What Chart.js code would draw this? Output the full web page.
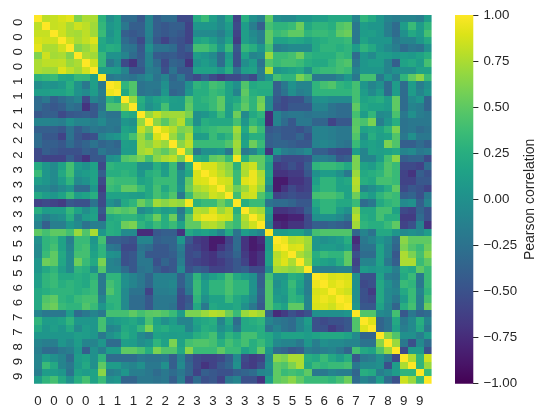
<!DOCTYPE html>
<html>
<head>
<meta charset="utf-8">
<style>
  html, body { margin: 0; padding: 0; background: #ffffff; }
  #wrap { position: relative; width: 548px; height: 418px; }
  canvas { position: absolute; left: 0; top: 0; }
</style>
<script src="https://cdn.jsdelivr.net/npm/chart.js@4/dist/chart.umd.min.js"></script>
</head>
<body>
<div id="wrap">
  <canvas id="heat" width="548" height="418"></canvas>
  <canvas id="bar" width="548" height="418"></canvas>
</div>
<script>
// Group label of each of the 50 variables (one tick every second variable).
const groupLabels = ["0","0","0","0","1","1","1","2","2","2","3","3","3","3","3","5","5","5","6","6","7","7","8","9","9"];
const colorbarTicks = [-1, -0.75, -0.5, -0.25, 0, 0.25, 0.5, 0.75, 1];
const colorbarTitle = "Pearson correlation";

// Upper triangle of the correlation matrix: each row starts on the diagonal.
const corrRows = [
[1,.8,.83,.88,.92,.62,.75,.75,.28,-.02,.12,-.3,-.3,-.45,-.1,-.4,-.3,-.3,-.55,-.55,.22,.35,.12,-.05,.2, -.6,.25,0,-.12,.5,0,-.05,-.05,.05,.05,.12,.12,.2,.2,.2,-.1,.3,.2,.05,-.1,-.15,-.1,-.1,-.15,.1],
[1,.83,.85,.75,.85,.8,.72,.32,.05,.12,-.2,-.4,-.4,-.1,-.4,-.45,-.4,-.4,-.6,.05,.05,.05,-.05,.1, -.55,.1,-.15,-.4,.4,.3,.3,.35,.55,.2,.3,.3,.25,.45,.5,-.2,.1,.05,.05,-.15,-.3,.1,.35,.1,.3],
[1,.85,.75,.73,.8,.72,.35,.02,.15,-.4,-.45,-.4,-.12,-.4,-.45,-.4,-.45,-.6,-.05,-.05,-.05,-.15,.05, -.6,.12,-.05,-.15,.5,.35,.4,.5,.5,.3,.35,.35,.3,.5,.55,-.2,.1,.12,.05,-.15,-.3,0,.2,.1,.4],
[1,.85,.75,.82,.9,.2,.08,.15,-.3,-.4,-.55,-.15,-.45,-.6,-.45,-.5,-.6,.15,.2,.1,-.05,.15, -.65,.12,0,-.15,.5,.15,.15,.2,.18,.12,.2,.25,.3,.3,.35,-.2,.15,.05,.05,.05,-.2,-.1,-.1,.05,.2],
[1,.62,.7,.8,.18,.25,.22,-.2,-.25,-.45,0,-.25,-.25,-.3,-.5,-.4,.4,.4,.3,.05,.35, -.45,.33,.25,.05,.4,-.15,-.1,-.05,-.05,-.05,.2,.3,.3,.25,.3,.1,.3,.2,.05,-.05,-.15,-.3,-.2,-.25,0],
[1,.75,.72,.33,.02,.02,-.1,-.3,-.42,-.1,-.42,-.45,-.42,-.5,-.55,.1,.05,-.05,-.3,.1, -.5,.15,-.1,-.05,.7,.35,.35,.4,.55,.3,.25,.25,.25,.35,.3,-.3,.05,-.05,.12,.1,.05,.1,.08,.15,.25],
[1,.85,.32,-.2,-.05,-.55,-.7,-.4,-.1,-.3,-.55,-.35,-.4,-.7,.02,.1,.02,-.3,.15, -.5,-.02,.1,-.25,.45,.35,.4,.4,.35,.25,.2,.2,.3,.4,.45,-.2,.05,.1,.1,-.1,-.4,.15,.2,.1,.4],
[1,.12,.12,.1,-.1,-.45,-.45,-.15,-.2,-.5,-.25,-.45,-.45,.15,.15,.15,.05,.25, -.25,.12,.15,-.15,.75,.05,.1,.15,.2,0,.3,.35,.35,.4,.35,-.1,.05,.05,.05,-.1,0,0,0,.15,.15],
[1,-.2,-.15,-.2,-.25,-.15,-.05,-.25,-.1,-.35,-.2,-.45,-.55,-.4,-.55,-.65,-.55, -.55,-.45,-.55,-.15,.05,.4,.3,.3,.6,.45,-.2,-.2,-.2,-.1,.05,-.2,.4,.4,-.2,.05,-.15,.3,.5,.65,.35],
[1,.95,.3,.45,-.25,-.2,-.2,0,-.3,-.3,0,.3,.25,.4,.35,.15, 0,.45,.2,.25,.25,-.4,-.2,.02,-.1,-.1,.3,.4,.45,.3,.25,.4,.05,-.1,0,-.3,.1,-.3,.1,-.15,0],
[1,.2,.45,-.25,-.2,-.25,.05,-.35,-.3,.05,.25,.25,.35,.3,.15, -.1,.5,.25,.22,.22,-.4,-.25,-.02,-.15,-.1,.3,.3,.3,.3,.3,.4,.1,-.05,.1,-.3,.1,-.3,.1,-.1,.05],
[1,.7,.25,.05,.15,.2,.12,.1,.45,.25,.3,.35,.5,.15, .2,.45,.3,.55,-.05,-.45,-.55,-.5,-.5,-.3,-.02,0,-.05,-.05,-.05,.4,.15,.2,.25,.12,.5,-.3,-.05,.05,-.35],
[1,.2,0,.1,.4,.1,.1,.5,.25,.25,.35,.5,.12, .3,.5,.3,.6,-.05,-.5,-.55,-.45,-.45,-.45,-.1,-.1,-.25,-.3,-.3,.5,.2,.15,.15,.1,.5,-.3,-.1,-.15,-.35],
[1,.68,.82,.7,.72,.72,.6,0,.05,.15,.35,.1, .55,-.05,.2,.3,-.75,-.1,-.25,-.2,-.2,-.25,-.2,-.2,-.25,-.3,-.3,.4,.1,.32,-.05,-.02,.42,-.2,0,-.15,-.2],
[1,.65,.48,.65,.78,.4,0,.25,.2,.2,.2, .4,.05,.32,.2,-.75,-.1,-.3,-.45,-.2,-.2,-.35,-.35,-.6,-.45,-.45,.48,.42,.6,-.15,.05,.25,-.25,-.2,-.2,-.2],
[1,.88,.78,.6,.65,.25,.3,.35,.4,.4, .72,.2,.55,.35,-.45,-.4,-.45,-.45,-.5,-.4,-.12,-.12,-.15,-.2,-.2,.5,.15,.2,.15,.3,.6,-.25,-.2,-.3,-.25],
[1,.7,.5,.75,.1,.12,.35,.2,.3, .65,.1,.25,.25,-.4,-.35,-.45,-.45,-.35,-.5,-.12,-.12,-.15,-.2,-.2,.45,0,.25,.12,.15,.45,-.2,0,-.2,-.2],
[1,.65,.8,.35,.35,.35,.35,.45, .72,.15,.55,.35,-.4,-.35,-.35,-.4,-.45,-.45,-.12,-.08,-.12,-.2,-.25,.35,.1,.15,.1,.6,.45,-.4,-.4,-.3,-.4],
[1,.6,-.2,0,0,.05,-.2, .68,-.2,-.1,.15,-.7,.05,-.15,-.2,-.15,-.05,-.4,-.4,-.5,-.55,-.55,.1,-.1,.15,.12,.15,.2,-.1,-.05,-.2,-.15],
[1,.25,.2,.5,.55,.35, .97,.25,.5,.5,.2,-.45,-.55,-.55,-.55,-.5,-.15,-.15,-.2,-.45,-.4,.6,-.1,-.1,.1,.4,.65,-.4,-.35,-.35,-.55],
[1,.88,.88,.75,.65, .28,.78,.85,.5,.1,-.65,-.6,-.5,-.6,-.4,.3,.35,.35,.3,.2,.6,.15,.1,.25,.45,.35,-.55,-.55,-.6,-.3],
[1,.9,.8,.68, .35,.75,.95,.75,.15,-.7,-.7,-.65,-.65,-.45,0,.1,.1,0,-.2,.7,.2,.25,.3,.45,.35,-.6,-.7,-.4,-.5],
[1,.88,.85, .35,.9,.95,.78,.08,-.85,-.85,-.7,-.7,-.6,.12,.3,.3,.15,.2,.78,.25,.2,.4,.4,.35,-.6,-.6,-.45,-.45],
[1,.8, .55,.7,.88,.7,-.1,-.85,-.7,-.55,-.65,-.6,.2,.3,.3,.15,.15,.75,-.1,-.02,.1,.25,.5,-.55,-.45,-.5,-.6],
[1, .38,.82,.85,.45,.2,-.6,-.55,-.5,-.55,-.55,.4,.42,.42,.35,.15,.55,.2,.1,.3,.4,.35,-.4,-.35,-.5,-.2],
[1,.25,.35,.35,-.25,-.3,-.3,-.35,-.45,-.45,.2,.3,.3,.2,.2,.35,-.3,-.2,.2,.3,.35,-.05,0,-.4,-.1],
[1,.78,.72,.1,-.7,-.7,-.65,-.6,-.4,.1,.3,.3,.1,0,.7,.2,.2,.4,.4,.15,-.55,-.6,-.35,-.5],
[1,.85,0,-.85,-.85,-.8,-.8,-.55,0,.02,.02,-.05,-.2,.78,.25,.2,.4,.25,.25,-.65,-.65,-.3,-.5],
[1,-.1,-.75,-.8,-.7,-.7,-.55,-.4,-.4,-.35,-.4,-.45,.72,.3,.25,.25,.35,.5,-.6,-.5,-.1,-.7],
[1,.1,.1,.15,.15,-.02,.4,.45,.45,.45,.45,-.35,-.1,-.25,.2,.2,.05,-.05,0,-.05,.1],
[1,.95,.78,.8,.72,.05,0,.05,.1,.25,-.75,-.2,-.1,.05,-.05,-.3,.65,.5,.5,.5],
[1,.88,.9,.7,.05,.1,.1,.05,.15,-.65,-.25,-.25,.15,-.1,-.35,.6,.45,.35,.55],
[1,.75,.65,.25,.35,.3,.3,.5,-.5,-.3,-.3,.15,-.1,-.45,.75,.6,.4,.65],
[1,.7,.2,.15,.1,.25,.5,-.6,-.1,-.1,.15,-.2,-.4,.75,.75,.35,.5],
[1,-.1,-.15,-.15,-.1,-.1,-.5,.1,.05,.1,.05,-.15,.25,.2,.5,.35],
[1,.95,.88,.9,.88,0,-.5,-.5,.15,-.15,-.2,.2,.35,-.2,.35],
[1,.9,.95,.9,0,-.55,-.5,.2,0,-.15,.35,.3,-.2,.35],
[1,.9,.85,0,-.5,-.65,.2,-.05,-.1,.2,.35,-.1,.3],
[1,.95,0,-.5,-.55,.2,-.05,-.2,.1,.35,-.15,.4],
[1,.05,-.45,-.45,.15,-.1,-.35,.25,.4,-.15,.55],
[1,.45,.45,-.05,-.1,.4,-.45,-.2,-.35,-.3],
[1,.9,-.35,-.25,.2,-.2,-.05,.25,-.1],
[1,-.35,-.25,.15,-.15,-.05,.2,-.2],
[1,.65,.45,0,0,-.15,.1],
[1,.7,-.2,-.5,-.05,-.3],
[1,-.55,.1,.1,-.5],
[1,.75,.3,.85],
[1,.3,.7],
[1,.35],
[1]
];

const viridisStops = ["#440154","#481467","#482576","#453781","#404688","#39558c","#33638d","#2d718e","#287d8e","#238a8d","#1f968b","#20a386","#29af7f","#3cbc75","#56c667","#74d055","#94d840","#b8de29","#dce318","#fde725"];

const rgbStops = viridisStops.map(h => [1, 3, 5].map(i => parseInt(h.slice(i, i + 2), 16)));
function viridis(v) {
  const t = Math.min(1, Math.max(0, (v + 1) / 2)) * (rgbStops.length - 1);
  const i = Math.min(rgbStops.length - 2, Math.floor(t));
  const f = t - i;
  const c = rgbStops[i].map((a, k) => Math.round(a + (rgbStops[i + 1][k] - a) * f));
  return `rgb(${c[0]},${c[1]},${c[2]})`;
}

const n = corrRows.length;
const value = (r, c) => r <= c ? corrRows[r][c - r] : corrRows[c][r - c];
const indices = corrRows.map((_, i) => i);
const TEXT = "#262626";
const FONT = { family: "'Liberation Sans', Arial, sans-serif", size: 13.3 };

// One dataset per matrix row; each bar spans one row band of the reversed y scale.
const rowDatasets = indices.map(r => ({
  label: "row " + r,
  data: indices.map(() => [r, r + 1]),
  backgroundColor: indices.map(c => viridis(value(r, c))),
  borderWidth: 0,
  inflateAmount: 0,
  grouped: false,
  categoryPercentage: 1,
  barPercentage: 1
}));

// Round the scale-computed cell edges to whole pixels so cells meet without seams.
const snapCells = {
  id: "snapCells",
  afterDatasetsUpdate(chart) {
    chart.getSortedVisibleDatasetMetas().forEach(meta => {
      meta.data.forEach(el => {
        const left = Math.round(el.x - el.width / 2);
        const right = Math.round(el.x + el.width / 2);
        const top = Math.round(Math.min(el.y, el.base));
        const bottom = Math.round(Math.max(el.y, el.base));
        el.x = (left + right) / 2;
        el.width = right - left;
        el.y = top;
        el.base = bottom;
        el.height = bottom - top;
      });
    });
  }
};

new Chart(document.getElementById("heat"), {
  type: "bar",
  data: { labels: indices, datasets: rowDatasets },
  options: {
    responsive: false,
    animation: false,
    events: [],
    layout: { padding: { left: 0, top: 15, right: 116.4, bottom: 0 } },
    plugins: { legend: { display: false }, tooltip: { enabled: false } },
    scales: {
      x: {
        type: "category",
        grid: { display: false, drawTicks: false },
        border: { display: false },
        afterFit: s => { s.height = 34.3; s.paddingLeft = 0; s.paddingRight = 0; },
        afterBuildTicks: s => { s.ticks = indices.filter(i => i % 2 === 0).map(i => ({ value: i })); },
        ticks: {
          autoSkip: false, maxRotation: 0, minRotation: 0, padding: 10,
          color: TEXT, font: FONT,
          callback: v => groupLabels[v / 2]
        }
      },
      y: {
        type: "linear", min: 0, max: n, reverse: true,
        grid: { display: false, drawTicks: false },
        border: { display: false },
        afterFit: s => { s.width = 34; s.paddingTop = 0; s.paddingBottom = 0; },
        afterBuildTicks: s => { s.ticks = indices.filter(i => i % 2 === 0).map(i => ({ value: i + 0.5 })); },
        ticks: {
          autoSkip: false, minRotation: 90, maxRotation: 90, padding: 16,
          color: TEXT, font: FONT,
          callback: v => groupLabels[(v - 0.5) / 2]
        }
      }
    }
  },
  plugins: [snapCells]
});

// Rotated caption beside the colour scale, reading bottom to top.
const titlePlugin = {
  id: "colorbarTitle",
  afterDraw(chart) {
    const { ctx, chartArea } = chart;
    ctx.save();
    ctx.translate(530, (chartArea.top + chartArea.bottom) / 2);
    ctx.rotate(-Math.PI / 2);
    ctx.textAlign = "center";
    ctx.textBaseline = "middle";
    ctx.fillStyle = TEXT;
    ctx.font = `14px ${FONT.family}`;
    ctx.fillText(colorbarTitle, 0, 0);
    ctx.restore();
  }
};

// Vertical gradient bar spanning the full correlation range.
new Chart(document.getElementById("bar"), {
  type: "bar",
  data: {
    labels: [colorbarTitle],
    datasets: [{
      data: [[colorbarTicks[0], colorbarTicks[colorbarTicks.length - 1]]],
      borderWidth: 0,
      categoryPercentage: 1,
      barPercentage: 1,
      backgroundColor(c) {
        const area = c.chart.chartArea;
        if (!area) return viridis(0);
        const g = c.chart.ctx.createLinearGradient(0, area.bottom, 0, area.top);
        viridisStops.forEach((h, i) => g.addColorStop(i / (viridisStops.length - 1), h));
        return g;
      }
    }]
  },
  options: {
    responsive: false,
    animation: false,
    events: [],
    layout: { padding: { left: 455, top: 15, right: 0, bottom: 34.3 } },
    plugins: { legend: { display: false }, tooltip: { enabled: false } },
    scales: {
      x: { display: false },
      y: {
        type: "linear", position: "right", min: -1, max: 1,
        border: { display: false },
        grid: { drawOnChartArea: false, drawTicks: true, tickLength: 5, color: TEXT, lineWidth: 1 },
        afterFit: s => { s.width = 74.6; s.paddingTop = 0; s.paddingBottom = 0; },
        afterBuildTicks: s => { s.ticks = colorbarTicks.map(v => ({ value: v })); },
        ticks: {
          autoSkip: false, padding: 5, color: TEXT, font: FONT,
          callback: v => v.toFixed(2).replace("-", "\u2212")
        }
      }
    }
  },
  plugins: [titlePlugin]
});
</script>
</body>
</html>
